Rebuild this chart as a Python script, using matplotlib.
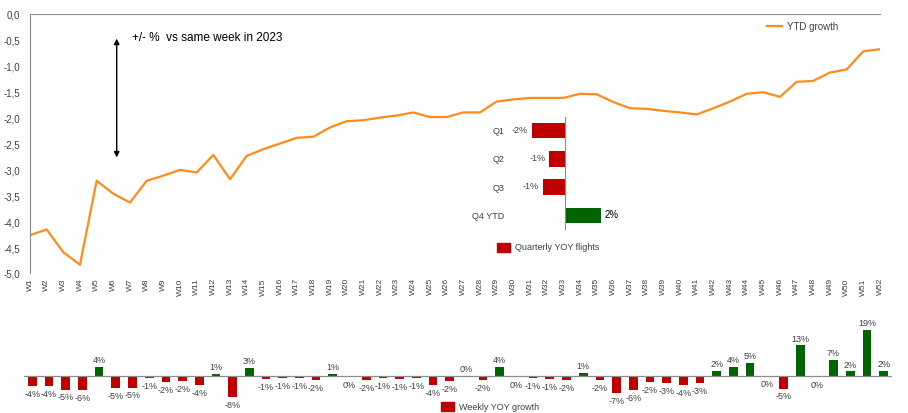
"""
YTD growth line with quarterly inset and weekly YOY growth bars.
"""

import matplotlib

matplotlib.use("Agg")
import matplotlib.pyplot as plt  # noqa: E402
import matplotlib.transforms as mtransforms  # noqa: E402
from matplotlib.patches import Rectangle  # noqa: E402

plt.rcParams["font.family"] = ["Liberation Sans", "DejaVu Sans"]

WEEKS = [f"W{i}" for i in range(1, 53)]

YTD_GROWTH = [
    -4.27, -4.16, -4.60, -4.84, -3.22, -3.47, -3.64, -3.22, -3.12, -3.01,
    -3.06, -2.72, -3.19, -2.74, -2.61, -2.50, -2.39, -2.37, -2.19, -2.07,
    -2.05, -2.00, -1.96, -1.90, -1.99, -1.99, -1.90, -1.90, -1.69, -1.65,
    -1.62, -1.62, -1.62, -1.54, -1.55, -1.70, -1.82, -1.83, -1.87, -1.90,
    -1.94, -1.82, -1.69, -1.54, -1.51, -1.60, -1.31, -1.29, -1.13, -1.07,
    -0.72, -0.68,
]

WEEKLY_YOY = [
    -4.0, -4.0, -5.4, -5.6, 3.8, -4.7, -4.6, -0.6, -2.2, -1.9,
    -3.6, 1.1, -8.4, 3.4, -1.0, -0.7, -0.6, -1.6, 1.1, -0.2,
    -1.6, -0.8, -1.0, -0.6, -3.6, -1.9, 0.3, -1.6, 3.8, -0.2,
    -0.7, -1.2, -1.6, 1.3, -1.6, -6.8, -5.7, -2.2, -2.6, -3.6,
    -2.9, 2.3, 3.8, 5.4, -0.1, -5.0, 12.7, -0.4, 6.9, 2.0,
    18.9, 2.4,
]

QUARTERS = ["Q1", "Q2", "Q3", "Q4 YTD"]
QUARTERLY_YOY = [-2.0, -0.95, -1.35, 2.1]

ORANGE = "#FF8C1A"
RED = "#C00000"
GREEN = "#006400"
TEXT = "#404040"
AXIS = "#8C8C8C"

W, H = 908, 414


def _rect(left, top, right, bottom):
    # pixel box -> figure fraction
    return [left / W, 1 - bottom / H, (right - left) / W, (bottom - top) / H]


fig = plt.figure(figsize=(W / 100, H / 100), dpi=100)

# --- main YTD line ---
ax = fig.add_axes(_rect(30, 15, 880, 274))
x = list(range(len(WEEKS)))
ax.plot(x, YTD_GROWTH, color=ORANGE, lw=1.6)
ax.set_xlim(0, len(WEEKS) - 1)
ax.set_ylim(-5, 0)
ax.set_yticks([-5 + 0.5 * i for i in range(11)])
ax.set_yticklabels([f"{-5 + 0.5 * i:.1f}".replace(".", ",") for i in range(11)])
ax.set_xticks(x)
ax.set_xticklabels(WEEKS, rotation=90)
ax.tick_params(axis="x", length=0, pad=3, labelsize=6, labelcolor=TEXT)
ax.tick_params(axis="y", length=0, pad=7, labelsize=7, labelcolor=TEXT)
for side in ("right", "bottom"):
    ax.spines[side].set_visible(False)
for side in ("left", "top"):
    ax.spines[side].set_color(AXIS)
    ax.spines[side].set_linewidth(0.8)

ax.annotate("", xy=(0.102, 0.905), xytext=(0.102, 0.446), xycoords="axes fraction",
            arrowprops=dict(arrowstyle="<|-|>", color="black", lw=1.0,
                            mutation_scale=8, shrinkA=0, shrinkB=0))
ax.text(0.120, 0.912, "+/- %  vs same week in 2023", transform=ax.transAxes,
        fontsize=8.5, color="black", va="center", ha="left")

# legend for line
ax.plot([0.867, 0.885], [0.953, 0.953], transform=ax.transAxes, color=ORANGE, lw=1.6)
ax.text(0.891, 0.953, "YTD growth", transform=ax.transAxes, fontsize=7,
        color=TEXT, va="center", ha="left")

# --- quarterly inset ---
axq = fig.add_axes(_rect(526.7, 117.5, 605.7, 230.5))
axq.patch.set_alpha(0)
qcolors = [RED if v < 0 else GREEN for v in QUARTERLY_YOY]
axq.barh(range(len(QUARTERS)), QUARTERLY_YOY, height=0.54, color=qcolors)
axq.set_xlim(-2.3, 2.4)
axq.set_ylim(len(QUARTERS) - 0.5, -0.5)
axq.set_xticks([])
axq.set_yticks([])
for side in ("right", "top", "bottom", "left"):
    axq.spines[side].set_visible(False)
axq.axvline(0, color=AXIS, lw=0.8)
for i, (q, v) in enumerate(zip(QUARTERS, QUARTERLY_YOY)):
    axq.text(0, i, q, transform=mtransforms.offset_copy(
        axq.transData, fig=fig, x=-44, y=0, units="points"),
        ha="right", va="center", fontsize=6.5, color=TEXT)
    if v < 0:
        axq.annotate(f"{round(v):.0f}%", (v, i), xytext=(-3, 1), textcoords="offset points",
                     ha="right", va="center", fontsize=6.5, color=TEXT)
    else:
        axq.annotate(f"{round(v):.0f}%", (v, i), xytext=(3, 1), textcoords="offset points",
                     ha="left", va="center", fontsize=7, color="black")

fig.patches.append(Rectangle((497 / W, 1 - 252.5 / H), 13 / W, 9 / H,
                             transform=fig.transFigure, color=RED))
fig.text(515 / W, 1 - 248 / H, "Quarterly YOY flights", fontsize=6.5,
         color=TEXT, va="center", ha="left")

# --- weekly YOY bars ---
axw = fig.add_axes(_rect(24, 320, 892, 414))
axw.patch.set_alpha(0)
wcolors = [RED if v < 0 else GREEN for v in WEEKLY_YOY]
axw.bar(x, WEEKLY_YOY, width=0.52, color=wcolors)
axw.set_xlim(-0.5, len(WEEKS) - 0.5)
axw.set_ylim(-15, 23.5)
axw.axhline(0, color=AXIS, lw=0.9)
axw.axis("off")
for i, v in enumerate(WEEKLY_YOY):
    label = f"{int(round(v))}%"
    if v >= 0:
        axw.annotate(label, (i, v), xytext=(0, 2), textcoords="offset points",
                     ha="center", va="bottom", fontsize=6.5, color=TEXT)
    else:
        axw.annotate(label, (i, v), xytext=(0, -2), textcoords="offset points",
                     ha="center", va="top", fontsize=6.5, color=TEXT)

fig.patches.append(Rectangle((441 / W, 1 - 411.5 / H), 13 / W, 9 / H,
                             transform=fig.transFigure, color=RED))
fig.text(459 / W, 1 - 407.5 / H, "Weekly YOY growth", fontsize=6.5,
         color=TEXT, va="center", ha="left")

fig.savefig("out.png", dpi=100)
plt.close(fig)
